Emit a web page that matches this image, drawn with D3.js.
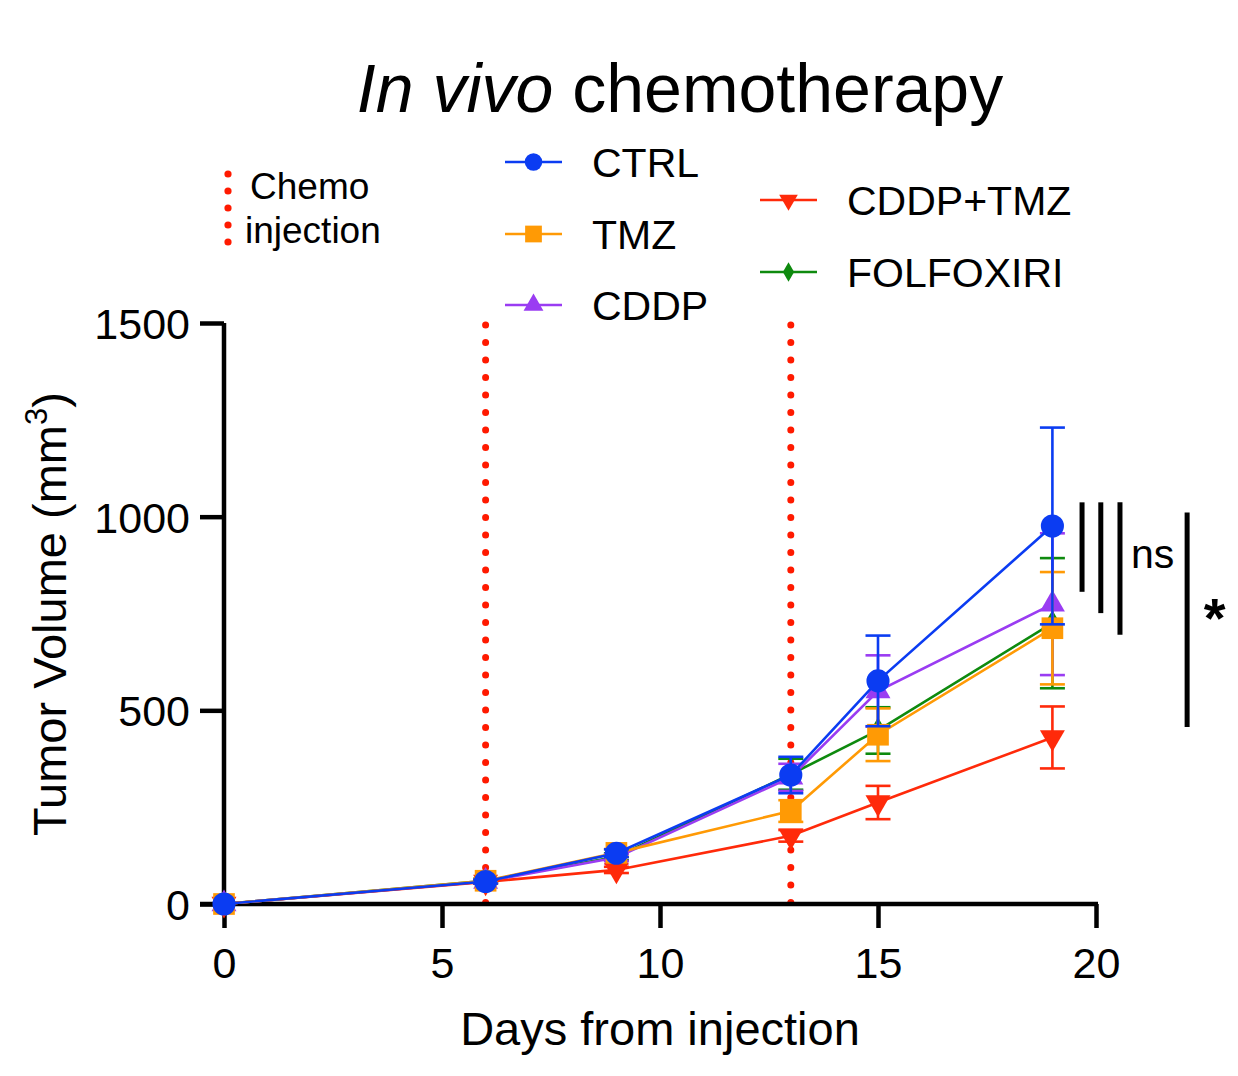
<!DOCTYPE html>
<html><head><meta charset="utf-8">
<script src="https://cdn.jsdelivr.net/npm/d3@7"></script>
<style>
html,body{margin:0;padding:0;background:#fff;}
svg{display:block;font-family:"Liberation Sans",Arial,sans-serif;}
</style></head>
<body>
<svg id="chart" width="1238" height="1076"></svg>
<script>
// ---- data ----
const days = [0, 6, 9, 13, 15, 19];
const seriesNames = ["CTRL", "TMZ", "CDDP", "CDDP+TMZ", "FOLFOXIRI"];
const ctrlMean = [0, 58, 131, 333, 576, 976];
const ctrlSem  = [0, 5, 10, 47, 117, 254];
const tmzMean  = [0, 60, 132, 240, 437, 712];
const tmzSem   = [0, 5, 10, 28, 68, 145];
const cddpMean = [0, 58, 120, 327, 550, 774];
const cddpSem  = [0, 5, 9, 35, 92, 183];
const comboMean = [0, 57, 88, 176, 262, 430];
const comboSem  = [0, 4, 8, 15, 43, 80];
const folfMean = [0, 60, 122, 335, 448, 725];
const folfSem  = [0, 5, 9, 40, 60, 168];
const injectionDays = [6, 13];
const xTicks = [0, 5, 10, 15, 20];
const yTicks = [0, 500, 1000, 1500];
const sigBars = [
  {x: 19.68, from: 1037, to: 806},
  {x: 20.11, from: 1037, to: 751},
  {x: 20.55, from: 1037, to: 695},
  {x: 22.09, from: 1011, to: 457}
];
const sigLabels = [{x: 20.8, y: 868, text: "ns"}, {x: 22.72, y: 690, text: "*"}];

const colors = {"CTRL":"#0b3cf2","TMZ":"#ff9a05","CDDP":"#9a3cf2","CDDP+TMZ":"#ff2a0a","FOLFOXIRI":"#0e8a0e"};
const symbols = {"CTRL":d3.symbolCircle,"TMZ":d3.symbolSquare,"CDDP":d3.symbolTriangle,"CDDP+TMZ":d3.symbolTriangle,"FOLFOXIRI":d3.symbolDiamond};
const plotSizes = {"CTRL":420,"TMZ":470,"CDDP":270,"CDDP+TMZ":270,"FOLFOXIRI":200};
const legendSizes = {"CTRL":240,"TMZ":280,"CDDP":170,"CDDP+TMZ":150,"FOLFOXIRI":110};
const rotations = {"CTRL":0,"TMZ":0,"CDDP":0,"CDDP+TMZ":180,"FOLFOXIRI":0};

const meanOf = {"CTRL":ctrlMean,"TMZ":tmzMean,"CDDP":cddpMean,"CDDP+TMZ":comboMean,"FOLFOXIRI":folfMean};
const semOf = {"CTRL":ctrlSem,"TMZ":tmzSem,"CDDP":cddpSem,"CDDP+TMZ":comboSem,"FOLFOXIRI":folfSem};

const svg = d3.select("#chart");
const x = d3.scaleLinear().domain([0, 20]).range([224, 1096]);
const y = d3.scaleLinear().domain([0, 1500]).range([904, 323]);

// title
const title = svg.append("text").attr("x", 680).attr("y", 112)
  .attr("text-anchor", "middle").attr("font-size", 68).attr("fill", "#000");
title.append("tspan").attr("font-style", "italic").text("In vivo");
title.append("tspan").text(" chemotherapy");

// injection dotted lines
svg.append("g").selectAll("line").data(injectionDays).join("line")
  .attr("x1", d => x(d)).attr("x2", d => x(d))
  .attr("y1", y(1500) + 2).attr("y2", y(0))
  .attr("stroke", "#ff1a00").attr("stroke-width", 7)
  .attr("stroke-linecap", "round").attr("stroke-dasharray", "0 17.5");

// axes
const axisW = 4.5;
const gx = svg.append("g").attr("transform", `translate(0,${y(0)})`)
  .call(d3.axisBottom(x).tickValues(xTicks).tickFormat(d3.format("d"))
    .tickSize(24).tickSizeOuter(0).tickPadding(19));
const gy = svg.append("g").attr("transform", `translate(${x(0)},0)`)
  .call(d3.axisLeft(y).tickValues(yTicks).tickFormat(d3.format("d"))
    .tickSize(24).tickSizeOuter(0).tickPadding(10));
[gx, gy].forEach(g => {
  g.select(".domain").attr("stroke", "#000").attr("stroke-width", axisW);
  g.selectAll(".tick line").attr("stroke", "#000").attr("stroke-width", axisW);
  g.selectAll(".tick text").attr("font-size", 43).attr("fill", "#000")
    .attr("font-family", '"Liberation Sans",Arial,sans-serif');
});
gx.select(".domain").attr("d", `M${x(0)-24},0H${x(20)+2}`);
gy.select(".domain").attr("d", `M0,${y(1500)}V${y(0)+2}`);
gy.selectAll(".tick text").attr("dy", "0.36em");

// axis titles
svg.append("text").attr("x", 660).attr("y", 1045).attr("text-anchor", "middle")
  .attr("font-size", 47).attr("fill", "#000").text("Days from injection");
const yt = svg.append("text").attr("transform", "translate(66,614) rotate(-90)")
  .attr("text-anchor", "middle").attr("font-size", 47).attr("fill", "#000");
yt.append("tspan").text("Tumor Volume (mm");
yt.append("tspan").attr("font-size", 31).attr("dy", -19).text("3");
yt.append("tspan").attr("dy", 19).text(")");

// series
const drawOrder = ["FOLFOXIRI", "CDDP", "CDDP+TMZ", "TMZ", "CTRL"];
const line = d3.line().x(d => x(d.day)).y(d => y(d.mean));
drawOrder.forEach(name => {
  const c = colors[name];
  const pts = days.map((d, i) => ({day: d, mean: meanOf[name][i], sem: semOf[name][i]}));
  const g = svg.append("g");
  g.append("path").datum(pts).attr("d", line).attr("fill", "none")
    .attr("stroke", c).attr("stroke-width", 2.6);
  const eb = g.append("g").selectAll("g").data(pts.filter(p => p.sem > 0)).join("g");
  eb.append("line").attr("x1", p => x(p.day)).attr("x2", p => x(p.day))
    .attr("y1", p => y(p.mean - p.sem)).attr("y2", p => y(p.mean + p.sem))
    .attr("stroke", c).attr("stroke-width", 2.6);
  [-1, 1].forEach(s => {
    eb.append("line").attr("x1", p => x(p.day) - 12.5).attr("x2", p => x(p.day) + 12.5)
      .attr("y1", p => y(p.mean + s * p.sem)).attr("y2", p => y(p.mean + s * p.sem))
      .attr("stroke", c).attr("stroke-width", 2.6);
  });
  const sym = d3.symbol().type(symbols[name]).size(plotSizes[name]);
  g.append("g").selectAll("path").data(pts).join("path")
    .attr("d", sym)
    .attr("transform", p => `translate(${x(p.day)},${y(p.mean)}) rotate(${rotations[name]})`)
    .attr("fill", c);
});

// significance annotations
svg.append("g").selectAll("line").data(sigBars).join("line")
  .attr("x1", d => x(d.x)).attr("x2", d => x(d.x))
  .attr("y1", d => y(d.from)).attr("y2", d => y(d.to))
  .attr("stroke", "#000").attr("stroke-width", 5);
svg.append("text").attr("x", x(sigLabels[0].x)).attr("y", y(sigLabels[0].y))
  .attr("font-size", 41).attr("fill", "#000").text(sigLabels[0].text);
svg.append("text").attr("x", x(sigLabels[1].x)).attr("y", y(sigLabels[1].y))
  .attr("font-size", 56).attr("font-weight", "bold").attr("text-anchor", "middle")
  .attr("fill", "#000").text(sigLabels[1].text);

// chemo legend
const chemoDots = [0, 1, 2, 3, 4];
svg.append("g").selectAll("circle").data(chemoDots).join("circle")
  .attr("cx", 228).attr("cy", d => 174 + d * 17).attr("r", 3.6).attr("fill", "#ff1a00");
svg.append("text").attr("x", 250).attr("y", 199).attr("font-size", 37).attr("fill", "#000").text("Chemo");
svg.append("text").attr("x", 245).attr("y", 243).attr("font-size", 37).attr("fill", "#000").text("injection");

// series legend
const legendPos = {
  "CTRL": [505, 162], "TMZ": [505, 234], "CDDP": [505, 305],
  "CDDP+TMZ": [760, 200], "FOLFOXIRI": [760, 272]
};
seriesNames.forEach(name => {
  const [lx, ly] = legendPos[name];
  const c = colors[name];
  const g = svg.append("g");
  g.append("line").attr("x1", lx).attr("x2", lx + 57).attr("y1", ly).attr("y2", ly)
    .attr("stroke", c).attr("stroke-width", 2.6);
  g.append("path").attr("d", d3.symbol().type(symbols[name]).size(legendSizes[name]))
    .attr("transform", `translate(${lx + 28.5},${ly}) rotate(${rotations[name]})`).attr("fill", c);
  g.append("text").attr("x", lx + 87).attr("y", ly + 15).attr("font-size", 41)
    .attr("fill", "#000").text(name);
});
</script>
</body></html>
